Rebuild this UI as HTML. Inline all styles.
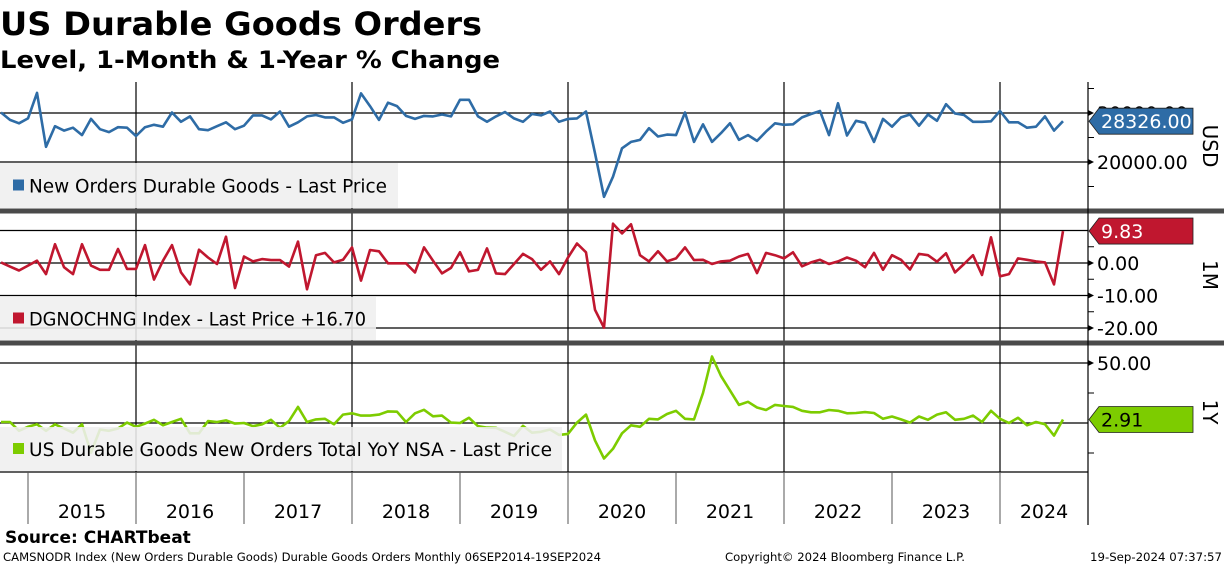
<!DOCTYPE html>
<html><head><meta charset="utf-8"><style>
html,body{margin:0;padding:0;background:#fff;}
svg{display:block;font-family:"DejaVu Sans","Liberation Sans",sans-serif;}
</style></head><body>
<svg id="chart" width="1224" height="566" viewBox="0 0 1224 566">
<text x="0" y="35" font-size="32" font-weight="bold" textLength="482" lengthAdjust="spacingAndGlyphs">US Durable Goods Orders</text>
<text x="0" y="68" font-size="24" font-weight="bold" textLength="500" lengthAdjust="spacingAndGlyphs">Level, 1-Month &amp; 1-Year % Change</text>
<g id="grid"></g>
<g id="series"></g>
<g id="legends"></g>
<g id="axis"></g>
<g id="xaxis"></g>
<text x="5" y="543" font-size="17" font-weight="bold">Source: CHARTbeat</text>
<text x="3" y="561" font-size="11.5" textLength="598" lengthAdjust="spacingAndGlyphs">CAMSNODR Index (New Orders Durable Goods) Durable Goods Orders  Monthly 06SEP2014-19SEP2024</text>
<text x="725" y="561" font-size="11.5" textLength="240" lengthAdjust="spacingAndGlyphs">Copyright© 2024 Bloomberg Finance L.P.</text>
<text x="1090" y="561" font-size="11.5" textLength="132" lengthAdjust="spacingAndGlyphs">19-Sep-2024 07:37:57</text>
</svg>
<script>
// Level in thousands USD, monthly Oct 2014 .. Aug 2024
const levelValues = [30.1,28.6,27.9,28.9,34.1,23.1,27.3,26.4,27.0,25.5,28.8,26.7,26.1,27.1,27.0,25.3,27.1,27.6,27.2,30.1,28.2,29.3,26.7,26.5,27.3,28.1,26.7,27.4,29.5,29.5,28.7,30.3,27.2,28.1,29.3,29.6,29.1,29.1,28.0,28.7,34.0,31.4,28.6,32.1,31.4,29.4,28.8,29.4,29.3,29.7,29.3,32.7,32.7,29.3,28.2,29.3,30.2,28.9,28.2,29.8,29.5,30.3,28.2,28.8,28.9,30.3,21.8,12.9,17.0,22.8,24.1,24.5,26.9,25.2,25.6,25.5,30.1,24.1,27.7,24.1,25.9,27.9,24.5,25.5,24.3,26.2,27.9,27.6,27.7,29.1,29.8,30.4,25.5,32.0,25.4,28.4,28.0,24.1,28.8,27.2,29.1,29.7,27.4,29.7,28.4,31.8,29.9,29.6,28.2,28.2,28.3,30.4,28.1,28.1,27.0,27.2,29.3,26.4,28.326];
const momValues = [0.2,-1.1,-2.3,-0.8,0.7,-3.4,5.8,-1.3,-3.4,5.8,-0.8,-2.1,-2.1,4.3,-1.8,-1.8,5.5,-5.1,0.7,5.5,-2.9,-6.6,4.1,1.7,-0.3,8.1,-7.7,2.0,0.5,1.2,0.9,0.9,-1.1,6.6,-8.1,2.4,3.1,0.2,1.0,4.8,-5.4,4.0,3.6,-0.1,-0.1,-0.1,-2.9,4.8,0.7,-3.2,-1.5,3.3,-2.6,-2.1,4.5,-3.2,-3.4,-0.3,2.8,1.2,-2.1,0.5,-3.4,1.7,6.0,3.3,-14.4,-19.9,12.1,9.1,11.9,2.4,0.5,3.6,0.5,1.4,4.8,0.9,1.0,-0.3,0.5,0.7,2.0,2.8,-3.1,3.1,2.4,1.4,3.3,-1.0,0.2,1.0,-0.3,0.5,1.7,0.7,-1.3,3.1,-2.1,2.4,1.0,-2.0,2.8,2.4,0.4,3.0,-2.9,-0.3,2.4,-3.7,7.9,-4.1,-3.4,1.4,1.0,0.5,0.2,-6.6,9.83];
const yoyValues = [0.8,0.8,-6.5,-3.2,-1.1,-6.5,-1.1,-4.6,-8.1,-1.1,-24.7,-5.4,-6.5,-4.6,0.3,-3.2,-0.5,2.7,-1.9,0.8,3.5,-8.6,-8.6,1.6,0.8,2.2,-0.5,0,-2.7,-1.1,2.7,-4.0,1.6,13.4,0.8,3.0,3.5,-1.1,7.0,8.1,6.2,6.2,7.0,9.7,9.4,0.8,8.1,11.0,5.6,6.2,0.3,0,4.3,-2.7,-3.8,-4.0,-7.3,-10.8,-2.4,-8.1,-7.3,-5.4,-9.9,-9.1,0.3,7.0,-14.5,-29.6,-21.5,-8.6,-1.9,-3.2,3.5,3.0,7.5,10.2,3.5,3.0,25.0,55.4,39.2,27.2,15.1,17.7,12.9,10.8,15.1,14.2,13.4,10.2,8.9,8.9,10.8,10.2,8.1,8.3,9.1,8.3,3.5,5.4,3.0,0.3,5.4,2.7,7.0,8.9,2.7,3.5,6.2,0.8,10.2,3.5,0,4.3,-1.9,0.8,-1.1,-10.5,2.91];
const yearLabels = ["2015","2016","2017","2018","2019","2020","2021","2022","2023","2024"];
const levelTicks = ["30000.00","20000.00"];
const momTicks = ["0.00","-10.00","-20.00"];
const yoyTicks = ["50.00"];

const NS="http://www.w3.org/2000/svg";
function mk(tag,attrs,parent){const e=document.createElementNS(NS,tag);for(const k in attrs)e.setAttribute(k,attrs[k]);parent.appendChild(e);return e;}
const xOf=i=>1+i*9;
const yLevel=v=>162-(v-20)*4.9;
const yMom=v=>263-v*3.25;
const yYoy=v=>423-v*1.2;
const grid=document.getElementById('grid'),series=document.getElementById('series'),legends=document.getElementById('legends'),axis=document.getElementById('axis'),xaxis=document.getElementById('xaxis');

[[yLevel(30),'grid-30000'],[yLevel(20),'grid-20000'],[yMom(10),'grid-1m-10'],[yMom(0),'grid-1m-0'],[yMom(-10),'grid-1m-m10'],[yMom(-20),'grid-1m-m20'],[yYoy(50),'grid-1y-50'],[yYoy(0),'grid-1y-0']].forEach(g=>{
  const l=mk('line',{x1:0,x2:1088,y1:g[0],y2:g[0],stroke:'#000','stroke-width':1.2},grid);
  
  
});
[136,352,568,784,1000].forEach(x=>{
  const l=mk('line',{x1:x,x2:x,y1:82,y2:472,stroke:'#000','stroke-width':1.2},grid);
  
  
});
[[211,'separator-top'],[343,'separator-bottom']].forEach(s=>{
  const r=mk('rect',{x:0,y:s[0]-2.5,width:1224,height:5,fill:'#4a4a4a'},grid);
  
  
});
mk('line',{x1:0,x2:1088,y1:472,y2:472,stroke:'#000','stroke-width':1.2},grid);

function drawLine(vals,yf,color,clipTop,clipBot,name){
  const cp=mk('clipPath',{id:'c'+name},series);
  mk('rect',{x:0,y:clipTop,width:1088,height:clipBot-clipTop},cp);
  const d=vals.map((v,i)=>(i?'L':'M')+xOf(i).toFixed(1)+','+yf(v).toFixed(1)).join(' ');
  const p=mk('path',{d:d,fill:'none',stroke:color,'stroke-width':2.6,'stroke-linejoin':'round','clip-path':'url(#c'+name+')'},series);
  
  
}
drawLine(levelValues,yLevel,'#2e6ca6',82,209,'level-line');
drawLine(momValues,yMom,'#c0172f',213,341,'mom-line');
drawLine(yoyValues,yYoy,'#7dcc00',345,472,'yoy-line');

function legend(x,y,w,h,color,text,tl,name){
  const g=mk('g',{},legends);
  
  
  mk('rect',{x:x,y:y,width:w,height:h,fill:'#efefef','fill-opacity':0.88},g);
  mk('rect',{x:x+13,y:y+h/2-6,width:11,height:11,fill:color},g);
  const t=mk('text',{x:x+29,y:y+h/2+7,'font-size':19,textLength:tl,lengthAdjust:'spacingAndGlyphs'},g);
  t.textContent=text;
}
legend(0,163,398,45,'#2e6ca6','New Orders Durable Goods - Last Price',358,'legend-level');
legend(0,297,376,43,'#c0172f','DGNOCHNG Index - Last Price +16.70',337,'legend-1m');
legend(0,427,562,44,'#7dcc00','US Durable Goods New Orders Total YoY NSA - Last Price',523,'legend-1y');

mk('line',{x1:1088,x2:1088,y1:82,y2:525,stroke:'#000','stroke-width':1.2},axis);
function ticks(vals,labels,yf,minor){
  vals.forEach((v,i)=>{
    const y=yf(v);
    mk('path',{d:`M1088,${y-3} L1094,${y} L1088,${y+3}Z`,fill:'#000'},axis);
    const t=mk('text',{x:1097,y:y+7,'font-size':19},axis);
    
    
    t.textContent=labels[i];
  });
  minor.forEach(v=>mk('line',{x1:1088,x2:1094,y1:yf(v),y2:yf(v),stroke:'#000'},axis));
}
ticks([30,20],levelTicks,yLevel,[35,25,15]);
ticks([0,-10,-20],momTicks,yMom,[5,-5,-15]);
ticks([50],yoyTicks,yYoy,[25,-25]);

function tag(y,color,text,tc,w,name){
  const g=mk('g',{},axis);
  
  
  mk('path',{d:`M1089,${y} L1099,${y-13} L${1090+w},${y-13} L${1090+w},${y+13} L1099,${y+13}Z`,fill:color,stroke:'#222','stroke-width':0.8},g);
  const t=mk('text',{x:1101,y:y+7,'font-size':19,fill:tc},g);
  t.textContent=text;
}
tag(yLevel(levelValues[levelValues.length-1]),'#2e6ca6',levelValues[levelValues.length-1].toFixed(3).replace('.','')+'.00','#fff',103,'last-value-level');
tag(yMom(momValues[momValues.length-1]),'#c0172f',momValues[momValues.length-1].toFixed(2),'#fff',103,'last-value-1m');
tag(yYoy(yoyValues[yoyValues.length-1]),'#7dcc00',yoyValues[yoyValues.length-1].toFixed(2),'#000',103,'last-value-1y');

[['USD',146,'axis-title-usd'],['1M',275,'axis-title-1m'],['1Y',412,'axis-title-1y']].forEach(a=>{
  const t=mk('text',{x:1203,y:a[1],'font-size':20,'text-anchor':'middle',transform:`rotate(90 1203 ${a[1]})`},axis);
  
  
  t.textContent=a[0];
});

yearLabels.forEach((lab,k)=>{
  const x0=28+k*108;
  const x1=Math.min(x0+108,1088);
  const l=mk('line',{x1:x0,x2:x0,y1:472,y2:524,stroke:'#555','stroke-width':1},xaxis);
  
  
  const t=mk('text',{x:(x0+x1)/2,y:518,'font-size':19,'text-anchor':'middle'},xaxis);
  
  
  t.textContent=lab;
});
</script>
</body></html>
